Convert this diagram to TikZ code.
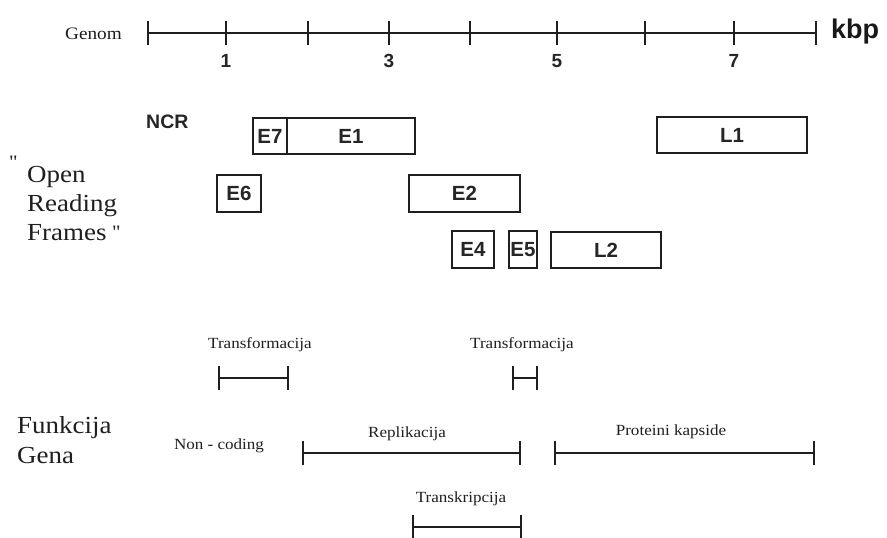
\documentclass[tikz,border=0pt]{standalone}
\usepackage{fontspec}
\setmainfont{Liberation Serif}
\newfontfamily\sansf{Liberation Sans}
\newfontfamily\serifw[FakeStretch=1.1]{Liberation Serif}
\usetikzlibrary{arrows.meta}
\begin{document}
\begin{tikzpicture}[x=1pt,y=-1pt,
  ink/.style={draw=black!88},
  axisline/.style={ink, line width=2pt},
  axtick/.style={ink, line width=1.4pt},
  numlbl/.style={font=\sansf\bfseries\fontsize{19}{19}\selectfont, anchor=base, inner sep=0pt, text=black!85},
  orf/.style={ink, line width=1.3pt, inner sep=0pt, font=\sansf\bfseries\fontsize{20.5}{20.5}\selectfont, text=black!85},
  seg/.style={ink, line width=2.3pt, {Bar[width=24pt,line width=1.4pt]}-{Bar[width=24pt,line width=1.4pt]}, shorten <=-0.7pt, shorten >=-0.7pt},
  smalllbl/.style={font=\serifw\fontsize{15.5}{15.5}\selectfont, anchor=base, inner sep=0pt, text=black!88},
  biglbl/.style={font=\serifw\fontsize{24.5}{24.5}\selectfont, anchor=base west, inner sep=0pt, text=black!88}
]
\useasboundingbox[fill=white] (0,0) rectangle (887,538);

% ---- genome axis ----
\node[font=\serifw\fontsize{17.5}{17.5}\selectfont, anchor=base east, inner sep=0pt, text=black!88] (genom) at (122,39) {Genom};
\coordinate (t0) at (148,33);
\coordinate (t1) at (226,33);
\coordinate (t2) at (308,33);
\coordinate (t3) at (389,33);
\coordinate (t4) at (470,33);
\coordinate (t5) at (557,33);
\coordinate (t6) at (645,33);
\coordinate (t7) at (734,33);
\coordinate (t8) at (816,33);
\draw[axisline] (t0) -- (t8);
\foreach \t in {t0,t1,t2,t3,t4,t5,t6,t7,t8}
  \draw[axtick] ([yshift=-12pt]\t) -- ([yshift=12pt]\t);
\node[numlbl] (n1) at (226,67) {1};
\node[numlbl] (n3) at (389,67) {3};
\node[numlbl] (n5) at (557,67) {5};
\node[numlbl] (n7) at (734,67) {7};
\node[font=\sansf\bfseries\fontsize{27}{27}\selectfont, anchor=base west, inner sep=0pt, text=black!90] (kbp) at (831,38) {kbp};

% ---- open reading frames ----
\node[font=\sansf\bfseries\fontsize{19.5}{19.5}\selectfont, anchor=base west, inner sep=0pt, text=black!85] (ncr) at (146,128) {NCR};
\node[orf, minimum width=34pt, minimum height=36pt] (e7) at (270,136) {E7};
\node[orf, minimum width=128pt, minimum height=36pt] (e1) at (351,136) {E1};
\node[orf, minimum width=150pt, minimum height=36pt] (l1) at (732,135) {L1};
\node[orf, minimum width=44pt, minimum height=37pt] (e6) at (239,193.5) {E6};
\node[orf, minimum width=111pt, minimum height=37pt] (e2) at (464.5,193.5) {E2};
\node[orf, minimum width=42pt, minimum height=37pt] (e4) at (473,249.5) {E4};
\node[orf, minimum width=28pt, minimum height=37pt] (e5) at (523,249.5) {E5};
\node[orf, minimum width=110pt, minimum height=36pt] (l2) at (606,250) {L2};

\node[biglbl] (open) at (27,182) {Open};
\node[biglbl] (reading) at (27,211) {Reading};
\node[biglbl] (frames) at (27,240) {Frames};
\node[font=\serifw\fontsize{19}{19}\selectfont, anchor=north west, inner sep=0pt, text=black!88] (q1) at (9,156) {"};
\node[font=\serifw\fontsize{19}{19}\selectfont, anchor=north west, inner sep=0pt, text=black!88] (q2) at (112,226) {"};

% ---- gene functions ----
\node[biglbl] (funk) at (17,433) {Funkcija};
\node[biglbl] (gena) at (17,463) {Gena};

\node[smalllbl] (tf1) at (260,348) {Transformacija};
\coordinate (tf1a) at (219,378);
\coordinate (tf1b) at (288,378);
\draw[seg] (tf1a) -- (tf1b);

\node[smalllbl] (tf2) at (522,348) {Transformacija};
\coordinate (tf2a) at (513,378);
\coordinate (tf2b) at (537,378);
\draw[seg] (tf2a) -- (tf2b);

\node[smalllbl] (nc) at (219,449) {Non - coding};

\node[smalllbl] (rep) at (407,437) {Replikacija};
\coordinate (repa) at (303,453);
\coordinate (repb) at (520,453);
\draw[seg] (repa) -- (repb);

\node[smalllbl] (prot) at (671,435) {Proteini kapside};
\coordinate (prota) at (555,453);
\coordinate (protb) at (814,453);
\draw[seg] (prota) -- (protb);

\node[smalllbl] (trk) at (461,502) {Transkripcija};
\coordinate (trka) at (413,527);
\coordinate (trkb) at (521,527);
\draw[seg] (trka) -- (trkb);
\end{tikzpicture}
\end{document}
